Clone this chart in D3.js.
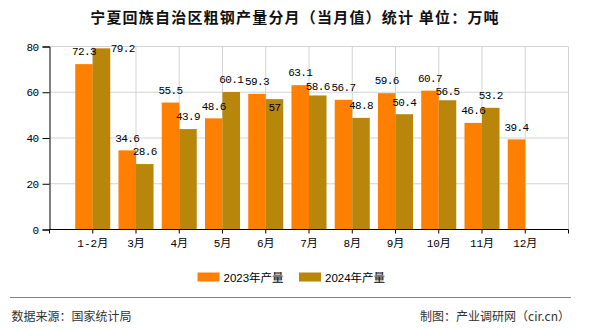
<!DOCTYPE html>
<html><head><meta charset="utf-8">
<script src="https://cdn.jsdelivr.net/npm/d3@7/dist/d3.min.js"></script>
<style>
html,body{margin:0;padding:0;background:#fff;}
svg{display:block;}
</style></head>
<body>
<svg id="c" width="590" height="330"></svg>
<script>
const title = "宁夏回族自治区粗钢产量分月（当月值）统计 单位：万吨";
const categories = ["1-2月","3月","4月","5月","6月","7月","8月","9月","10月","11月","12月"];
const series2023 = [72.3,34.6,55.5,48.6,59.3,63.1,56.7,59.6,60.7,46.6,39.4];
const series2024 = [79.2,28.6,43.9,60.1,57,58.6,48.8,50.4,56.5,53.2,null];
const seriesNames = ["2023年产量","2024年产量"];
const seriesColors = ["#ff8000","#b8860b"];
const yTicks = [0,20,40,60,80];
const sourceText = "数据来源：国家统计局";
const creditText = "制图：产业调研网（cir.cn）";

const svg = d3.select("#c");
svg.append("rect").attr("width",590).attr("height",330).attr("fill","#fff");

const L = 49.5, R = 568.5, T = 46.5, B = 229.5;
const x = d3.scalePoint().domain(categories).range([L,R]).padding(1);
const y = d3.scaleLinear().domain([0,80]).range([B,T]);
const step = x.step();
const bw = step*0.405;

const mono = "'Liberation Mono','DejaVu Sans Mono',monospace";
const cjk = "'Noto Sans CJK SC','Noto Sans',sans-serif";

// title
svg.append("text").attr("x",295).attr("y",22.5).attr("text-anchor","middle")
  .attr("font-family",cjk).attr("font-size",15).attr("font-weight","bold")
  .attr("letter-spacing","1.2px").attr("fill","#111").text(title);

// grid
const g = svg.append("g");
g.selectAll("line.h").data(yTicks.filter(d=>d>0)).join("line")
  .attr("x1",L).attr("x2",R).attr("y1",d=>y(d)).attr("y2",d=>y(d))
  .attr("stroke","#d3d3d3").attr("stroke-width",1);
const vgrid = categories.map(c=>x(c)).concat([R]);
g.selectAll("line.v").data(vgrid).join("line")
  .attr("x1",d=>d).attr("x2",d=>d).attr("y1",T).attr("y2",B)
  .attr("stroke","#d3d3d3").attr("stroke-width",1);

// bars
const all = [series2023, series2024];
const bars = svg.append("g");
all.forEach((s,si)=>{
  bars.selectAll("rect.s"+si).data(categories.map((c,i)=>({c,v:s[i]})).filter(d=>d.v!=null)).join("rect")
    .attr("x",d=>x(d.c) - bw + si*bw).attr("width",bw)
    .attr("y",d=>y(d.v)).attr("height",d=>B-y(d.v))
    .attr("fill",seriesColors[si]);
});

// axes
const yAxis = d3.axisLeft(y).tickValues(yTicks).tickSize(7).tickPadding(4).tickFormat(d3.format("d"));
const ya = svg.append("g").attr("transform",`translate(${L},0)`).call(yAxis);
ya.select(".domain").attr("stroke","#000");
ya.selectAll(".tick line").attr("stroke","#000");
ya.selectAll("text").attr("font-family",mono).attr("font-size",11).attr("letter-spacing","-0.6px").attr("fill","#000");

const xTickPos = [L].concat(vgrid);
const xa = svg.append("g");
xa.append("line").attr("x1",L).attr("x2",R).attr("y1",B).attr("y2",B).attr("stroke","#000");
xa.selectAll("line.t").data(xTickPos).join("line")
  .attr("x1",d=>d).attr("x2",d=>d).attr("y1",B).attr("y2",B+4).attr("stroke","#000");
xa.selectAll("text").data(categories).join("text")
  .attr("x",d=>x(d)).attr("y",B+17.5).attr("text-anchor","middle")
  .attr("font-family",mono+","+cjk).attr("font-size",11).attr("fill","#000").text(d=>d);

// value labels with simple collision handling
const charW = 6, boxH = 7.4, pad = 3;
const labels = [];
categories.forEach((c,i)=>{
  let prev = null;
  all.forEach((s,si)=>{
    const v = s[i]; if(v==null) return;
    const txt = String(v);
    const w = txt.length*charW;
    const bx0 = x(c) - bw + si*bw, bx1 = bx0 + bw;
    const top = y(v);
    let cx = (bx0+bx1)/2, cy = top - 12.5;
    if(cy - boxH/2 < T - 2){ cx = bx1 + 0.5 + w/2; cy = top; }
    const box = ()=>({x0:cx-w/2,x1:cx+w/2,y0:cy-boxH/2,y1:cy+boxH/2});
    if(prev){
      const a = prev.box, b = box();
      const xo = a.x0 - pad < b.x1 + pad && b.x0 - pad < a.x1 + pad;
      const yo = a.y0 - pad < b.y1 + pad && b.y0 - pad < a.y1 + pad;
      if(xo && yo){
        const shift = (a.y1 + pad) - (b.y0 - pad);
        if(shift <= 5) cy += shift; else cy = top + 8;
      }
    }
    const item = {txt,cx,cy,box:box()};
    labels.push(item); prev = item;
  });
});
svg.append("g").selectAll("text").data(labels).join("text")
  .attr("x",d=>d.cx).attr("y",d=>d.cy+3.8).attr("text-anchor","middle")
  .attr("font-family",mono).attr("font-size",11).attr("letter-spacing","-0.6px")
  .attr("fill","#000").text(d=>d.txt);

// legend
const lg = svg.append("g");
const legX = [197.5, 299];
seriesNames.forEach((n,i)=>{
  lg.append("rect").attr("x",legX[i]).attr("y",272.5).attr("width",22).attr("height",9).attr("fill",seriesColors[i]);
  lg.append("text").attr("x",legX[i]+26).attr("y",282).attr("font-family","'Liberation Sans',"+cjk)
    .attr("font-size",11.5).attr("fill","#000").text(n);
});

// footer
svg.append("line").attr("x1",10).attr("x2",571).attr("y1",297.5).attr("y2",297.5).attr("stroke","#808080").attr("stroke-width",1.2);
svg.append("text").attr("x",11.5).attr("y",320.5).attr("font-family",cjk).attr("font-size",12).attr("fill","#333").text(sourceText);
svg.append("text").attr("x",570).attr("y",320.5).attr("text-anchor","end").attr("font-family",cjk).attr("font-size",12).attr("fill","#333").text(creditText);
</script>
</body></html>
